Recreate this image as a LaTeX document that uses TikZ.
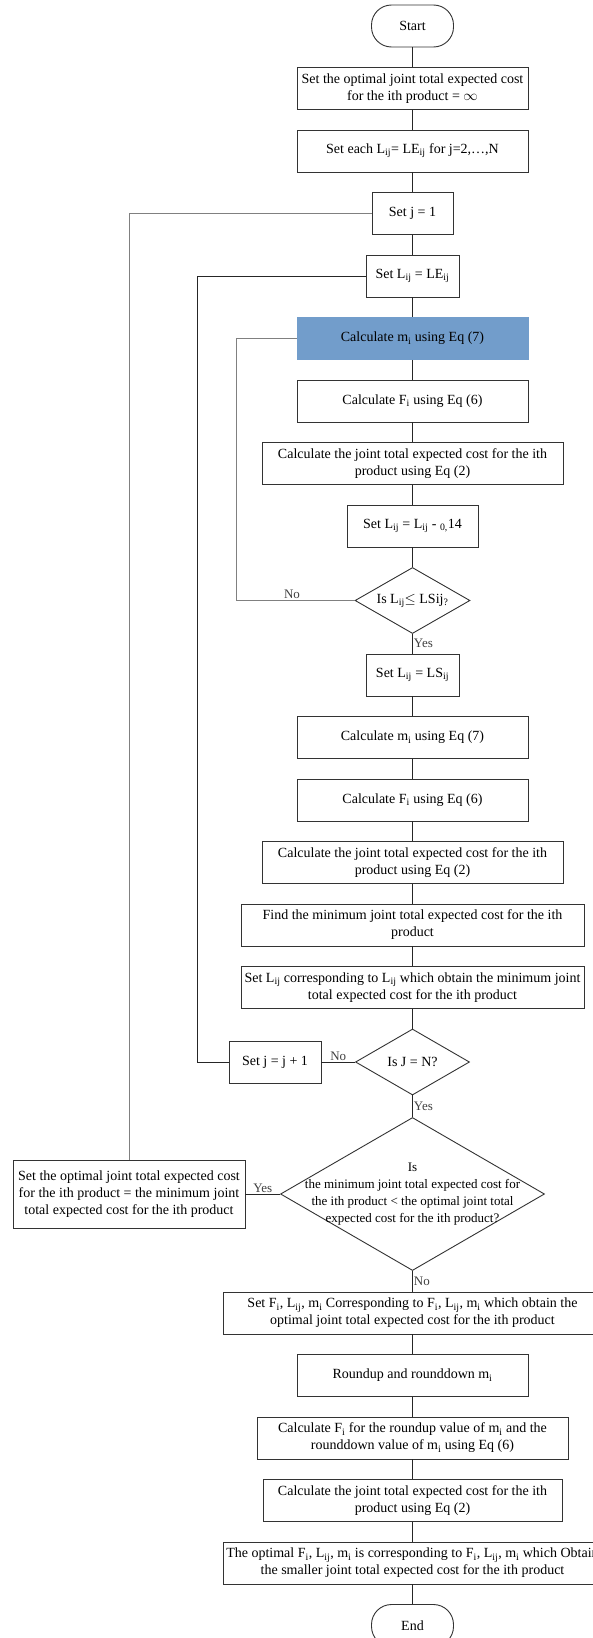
\documentclass[tikz,border=0pt]{standalone}
\usepackage{fontspec}
\setmainfont{Liberation Serif}
\usepackage{tikz}
\usetikzlibrary{shapes.geometric, arrows}
\definecolor{calcblue}{RGB}{114,157,203}
\tikzstyle{startstop} = [rectangle, rounded corners=20pt, minimum width=82pt, minimum height=42pt, text centered, draw=black!80, line width=0.9pt]
\tikzstyle{process} = [rectangle, minimum width=231pt, minimum height=42pt, inner sep=2pt, align=center, draw=black!80, line width=0.9pt]
\tikzstyle{decision} = [diamond, aspect=1.74, inner sep=0pt, minimum width=115pt, minimum height=66pt, align=center, draw=black!80, line width=0.9pt]
\tikzstyle{line} = [draw=black!85, line width=0.9pt]
\tikzstyle{loopline} = [draw=black!50, line width=0.9pt]
\tikzstyle{answer} = [font=\fontsize{13}{15}\selectfont, text=black!75, inner sep=1pt]

\begin{document}
\begin{tikzpicture}[node distance=62.5pt, x=1pt, y=1pt, font=\fontsize{14}{17}\selectfont]
    \fill [white] (0,0) rectangle (593,-1638);
    \useasboundingbox (0,0) rectangle (593,-1638);
    \clip (0,0) rectangle (593,-1638);
    % first pass
    \node (Start) [startstop] at (412.5,-26) {Start};
    \node (SetInf) [process, below of = Start] {Set the optimal joint total expected cost\\for the ith product = $\infty$};
    \node (SetEach) [process, below of = SetInf] {Set each L\textsubscript{ij}= LE\textsubscript{ij} for j=2,…,N};
    \node (SetJ) [process, minimum width=81pt, below of = SetEach] {Set j = 1};
    \node (SetLE) [process, minimum width=93pt, below of = SetJ] {Set L\textsubscript{ij} = LE\textsubscript{ij}};
    \node (CalcM) [process, fill=calcblue, draw=calcblue, below of = SetLE] {Calculate m\textsubscript{i} using Eq (7)};
    \node (CalcF) [process, below of = CalcM] {Calculate F\textsubscript{i} using Eq (6)};
    \node (CalcJ) [process, minimum width=301pt, below of = CalcF] {Calculate the joint total expected cost for the ith\\product using Eq (2)};
    \node (SetLStep) [process, minimum width=131pt, below of = CalcJ] {Set L\textsubscript{ij} = L\textsubscript{ij} - \textsubscript{0,}14};
    \node (DiaL) [decision, below of = SetLStep, yshift=-12pt] {Is L\textsubscript{ij}$\leq$ LSij\textsubscript{?}};
    % second pass
    \node (SetLS) [process, minimum width=93pt, below of = DiaL, yshift=-12pt] {Set L\textsubscript{ij} = LS\textsubscript{ij}};
    \node (CalcM2) [process, below of = SetLS] {Calculate m\textsubscript{i} using Eq (7)};
    \node (CalcF2) [process, below of = CalcM2] {Calculate F\textsubscript{i} using Eq (6)};
    \node (CalcJ2) [process, minimum width=301pt, below of = CalcF2] {Calculate the joint total expected cost for the ith\\product using Eq (2)};
    \node (FindMin) [process, minimum width=343pt, below of = CalcJ2] {Find the minimum joint total expected cost for the ith\\product};
    \node (SetLCorr) [process, minimum width=343pt, below of = FindMin] {Set L\textsubscript{ij} corresponding to L\textsubscript{ij} which obtain the minimum joint\\total expected cost for the ith product};
    \node (DiaJN) [decision, minimum width=114pt, below of = SetLCorr, yshift=-12pt] {Is J = N?};
    \node (SetJNext) [process, minimum width=92pt, left of = DiaJN, xshift=-75pt] {Set j = j + 1};
    \node (BigDia) [decision, minimum width=264pt, minimum height=153pt, below of = DiaJN, yshift=-69.5pt,
        label={[font=\fontsize{13}{17}\selectfont, align=center]center:{Is\\the minimum joint total expected cost for\\the ith product < the optimal joint total\\expected cost for the ith product?}}] {};
    \node (SetBest) [process, minimum width=232pt, minimum height=68pt, left of = BigDia, xshift=-221pt] {Set the optimal joint total expected cost\\for the ith product = the minimum joint\\total expected cost for the ith product};
    % rounding
    \node (SetFi) [process, minimum width=379pt, below of = BigDia, yshift=-56.5pt] {Set F\textsubscript{i}, L\textsubscript{ij}, m\textsubscript{i} Corresponding to F\textsubscript{i}, L\textsubscript{ij}, m\textsubscript{i} which obtain the\\optimal joint total expected cost for the ith product};
    \node (Round) [process, below of = SetFi] {Roundup and rounddown m\textsubscript{i}};
    \node (CalcFi) [process, minimum width=311pt, below of = Round] {Calculate F\textsubscript{i} for the roundup value of m\textsubscript{i} and the\\rounddown value of m\textsubscript{i} using Eq (6)};
    \node (CalcJ3) [process, minimum width=299pt, below of = CalcFi] {Calculate the joint total expected cost for the ith\\product using Eq (2)};
    \node (Optimal) [process, minimum width=379pt, below of = CalcJ3] {The optimal F\textsubscript{i}, L\textsubscript{ij}, m\textsubscript{i} is corresponding to F\textsubscript{i}, L\textsubscript{ij}, m\textsubscript{i} which Obtain\\the smaller joint total expected cost for the ith product};
    \node (End) [startstop, below of = Optimal] {End};
    \draw [line] (Start) -- (SetInf);
    \draw [line] (SetInf) -- (SetEach);
    \draw [line] (SetEach) -- (SetJ);
    \draw [line] (SetJ) -- (SetLE);
    \draw [line] (SetLE) -- (CalcM);
    \draw [line] (CalcM) -- (CalcF);
    \draw [line] (CalcF) -- (CalcJ);
    \draw [line] (CalcJ) -- (SetLStep);
    \draw [line] (SetLStep) -- (DiaL);
    \draw [line] (DiaL) -- node[answer, right] {Yes} (SetLS);
    \draw [loopline] (DiaL.west) -- node[answer, above, pos=0.53] {No} ++(-118pt,0) |- (CalcM.west);
    \draw [line] (SetLS) -- (CalcM2);
    \draw [line] (CalcM2) -- (CalcF2);
    \draw [line] (CalcF2) -- (CalcJ2);
    \draw [line] (CalcJ2) -- (FindMin);
    \draw [line] (FindMin) -- (SetLCorr);
    \draw [line] (SetLCorr) -- (DiaJN);
    \draw [line] (DiaJN) -- node[answer, above] {No} (SetJNext);
    \draw [line] (SetJNext.west) -- ++(-31pt,0) |- (SetLE.west);
    \draw [line] (DiaJN) -- node[answer, right] {Yes} (BigDia);
    \draw [line] (BigDia) -- node[answer, above] {Yes} (SetBest);
    \draw [loopline] (SetJ.west) -| (SetBest.north);
    \draw [line] (BigDia) -- node[answer, right] {No} (SetFi);
    \draw [line] (SetFi) -- (Round);
    \draw [line] (Round) -- (CalcFi);
    \draw [line] (CalcFi) -- (CalcJ3);
    \draw [line] (CalcJ3) -- (Optimal);
    \draw [line] (Optimal) -- (End);
\end{tikzpicture}
\end{document}
